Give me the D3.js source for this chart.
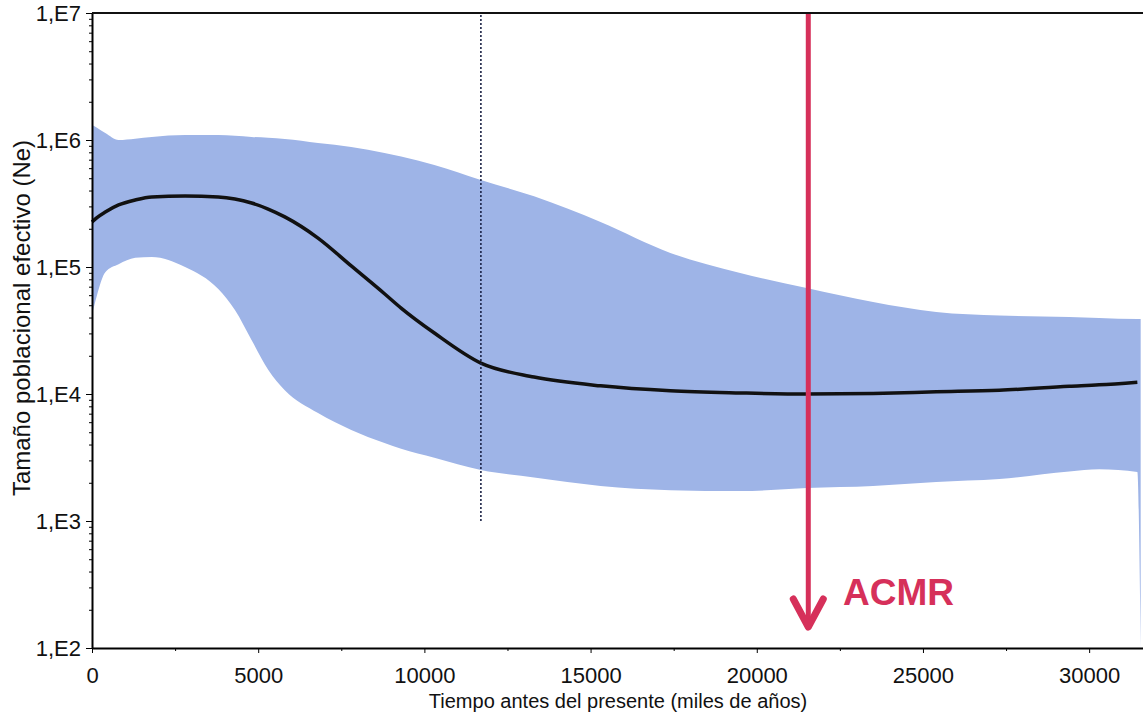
<!DOCTYPE html>
<html>
<head>
<meta charset="utf-8">
<script src="https://cdn.jsdelivr.net/npm/d3@7"></script>
<style>
body { margin: 0; background: #fff; }
text { font-family: "Liberation Sans", Arial, sans-serif; }
</style>
</head>
<body>
<div id="grafico"></div>
<script>
// Tiempo antes del presente (miles de años)
var tiempos = [0, 150, 400, 800, 1300, 1800, 2800, 3800, 4300, 4800, 5300, 5800, 6800, 7800, 8800, 9300,
    10300, 11700, 13300, 15300, 17400, 19500, 21500, 23500, 25400, 27300, 29400, 30300, 31450, 31550];

// Ne: limite superior, mediana y limite inferior
var neSuperior = [1310000, 1250000, 1135000, 1000000, 1025000, 1057000, 1095000, 1095000, 1080000, 1057000,
    1040000, 1018000, 947000, 881000, 790000, 740000, 636000, 484000, 360000, 226000, 129000, 89700, 68400,
    53000, 44200, 41500, 40400, 39600, 38900, 38900];
var neMediana = [226000, 245000, 271000, 308000, 337000, 356000, 362000, 356000, 343000, 319000,
    286000, 248000, 169000, 102000, 61600, 47500, 30200, 17500, 13600, 11600, 10600, 10200, 10000,
    10100, 10400, 10700, 11500, 11800, 12400, 12400];
var neInferior = [41900, 60000, 91000, 105000, 118000, 120000, 100000, 67000, 45800, 26600,
    15500, 10700, 7080, 5210, 4110, 3700, 3150, 2520, 2200, 1890, 1750, 1720, 1820,
    1890, 2030, 2140, 2450, 2550, 2430, 100];

var ticksX = [0, 5000, 10000, 15000, 20000, 25000, 30000];
var ticksXmenores = [2500, 7500, 12500, 17500, 22500, 27500];
var ticksY = [1e2, 1e3, 1e4, 1e5, 1e6, 1e7];
var etiquetasY = ["1,E2", "1,E3", "1,E4", "1,E5", "1,E6", "1,E7"];

var tiempoHoloceno = 11700;
var tiempoACMR = 21550;
var textoACMR = "ACMR";

var tituloX = "Tiempo antes del presente (miles de años)";
var tituloY = "Tamaño poblacional efectivo (Ne)";

var width = 1143,
    height = 717;

var svg = d3.select("#grafico")
    .append("svg")
    .attr("width", width)
    .attr("height", height);

var x = d3.scaleLinear()
    .domain([0, 31620])
    .range([92, 1143]);

var y = d3.scaleLog()
    .domain([1e2, 1e7])
    .range([648, 13]);

var datos = tiempos.map(function(t, i) {
    return { t: t, sup: neSuperior[i], med: neMediana[i], inf: neInferior[i] };
});

// banda azul
var banda = d3.area()
    .x(function(d) { return x(d.t); })
    .y0(function(d) { return y(d.inf); })
    .y1(function(d) { return y(d.sup); })
    .curve(d3.curveMonotoneX);

svg.append("path")
    .datum(datos)
    .attr("d", banda)
    .attr("fill", "#9eb4e7");

// mediana
var linea = d3.line()
    .x(function(d) { return x(d.t); })
    .y(function(d) { return y(d.med); })
    .curve(d3.curveMonotoneX);

svg.append("path")
    .datum(datos.slice(0, datos.length - 1))
    .attr("d", linea)
    .attr("fill", "none")
    .attr("stroke", "#111")
    .attr("stroke-width", 3.5);

// linea punteada
svg.append("line")
    .attr("x1", x(tiempoHoloceno)).attr("x2", x(tiempoHoloceno))
    .attr("y1", y(1e7) + 2).attr("y2", y(1e3))
    .attr("stroke", "#1c2447")
    .attr("stroke-width", 1.6)
    .attr("stroke-dasharray", "2,2");

// ejes
var ejeX = d3.axisBottom(x)
    .tickValues(ticksX)
    .tickFormat(d3.format("d"))
    .tickSize(5)
    .tickSizeOuter(0)
    .tickPadding(14);

var gX = svg.append("g")
    .attr("transform", "translate(0," + y(1e2) + ")")
    .call(ejeX);

gX.selectAll("text").style("font-size", "22px").attr("fill", "#111");
gX.select(".domain").attr("stroke-width", 2);

svg.append("g")
    .attr("transform", "translate(0," + y(1e2) + ")")
    .call(d3.axisBottom(x).tickValues(ticksXmenores).tickFormat("").tickSize(3).tickSizeOuter(0))
    .select(".domain").remove();

var menoresY = [];
[1e2, 1e3, 1e4, 1e5, 1e6].forEach(function(d) {
    for (var k = 2; k <= 9; k++) menoresY.push(d * k);
});

var ejeY = d3.axisLeft(y)
    .tickValues(ticksY)
    .tickFormat(function(d, i) { return etiquetasY[i]; })
    .tickSize(6)
    .tickSizeOuter(0)
    .tickPadding(5);

var gY = svg.append("g")
    .attr("transform", "translate(92,0)")
    .call(ejeY);

gY.selectAll("text").style("font-size", "22px").attr("fill", "#111");
gY.select(".domain").attr("stroke-width", 2);

svg.append("g")
    .attr("transform", "translate(92,0)")
    .call(d3.axisLeft(y).tickValues(menoresY).tickFormat("").tickSize(3).tickSizeOuter(0))
    .select(".domain").remove();

// borde superior
svg.append("line")
    .attr("x1", 92).attr("x2", width)
    .attr("y1", y(1e7)).attr("y2", y(1e7))
    .attr("stroke", "#111")
    .attr("stroke-width", 2);

// flecha ACMR
var rojo = "#d6305a";
var xa = x(tiempoACMR);

svg.append("line")
    .attr("x1", xa).attr("x2", xa)
    .attr("y1", y(1e7) + 1).attr("y2", 626)
    .attr("stroke", rojo)
    .attr("stroke-width", 5);

svg.append("path")
    .attr("d", "M" + (xa - 15) + ",599L" + xa + ",627L" + (xa + 15) + ",599")
    .attr("fill", "none")
    .attr("stroke", rojo)
    .attr("stroke-width", 7)
    .attr("stroke-linecap", "round")
    .attr("stroke-linejoin", "round");

svg.append("text")
    .attr("x", 843)
    .attr("y", 605)
    .attr("fill", rojo)
    .style("font-size", "37px")
    .style("font-weight", "bold")
    .text(textoACMR);

// titulos
svg.append("text")
    .attr("x", 618)
    .attr("y", 708)
    .attr("text-anchor", "middle")
    .attr("fill", "#111")
    .style("font-size", "20px")
    .text(tituloX);

svg.append("text")
    .attr("transform", "translate(30,318) rotate(-90)")
    .attr("text-anchor", "middle")
    .attr("fill", "#111")
    .style("font-size", "24px")
    .text(tituloY);
</script>
</body>
</html>
